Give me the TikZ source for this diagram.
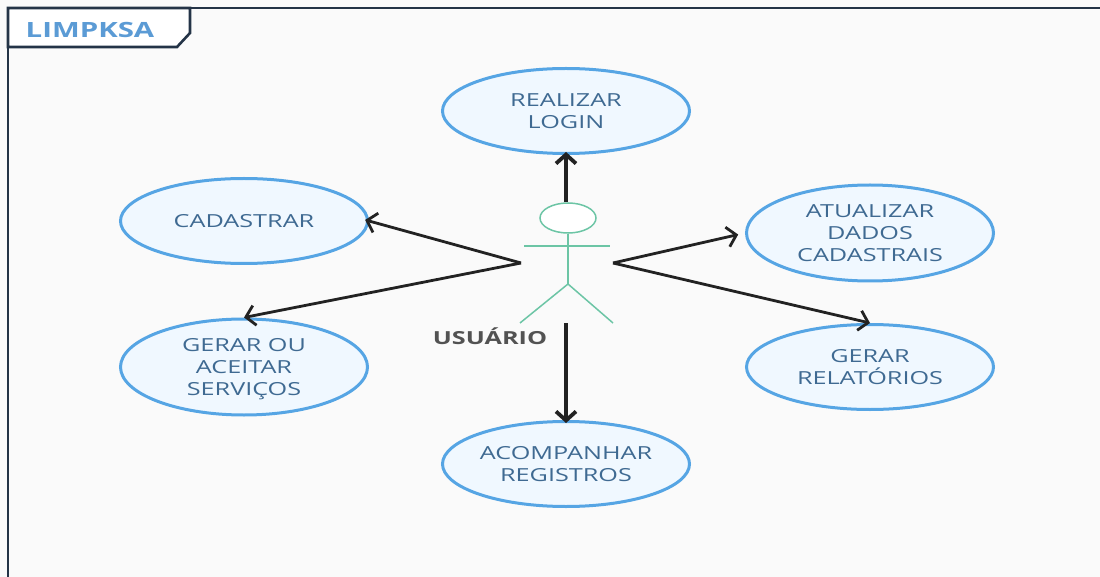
\documentclass[tikz,border=0pt]{standalone}
\usepackage{fontspec}
\usepackage{amsmath}
\setmainfont[FakeStretch=1.4]{Open Sans}
\usetikzlibrary{arrows.meta,shapes.geometric}

\definecolor{pagebg}{HTML}{FAFAFA}
\definecolor{framecol}{HTML}{243447}
\definecolor{ellfill}{HTML}{F0F8FF}
\definecolor{ellline}{HTML}{56A5E4}
\definecolor{txtcol}{HTML}{3F6A92}
\definecolor{titlecol}{HTML}{5B9BD5}
\definecolor{actorcol}{HTML}{6CC5A5}
\definecolor{arrowcol}{HTML}{222222}

\tikzset{
  usecase/.style={ellipse, draw=ellline, fill=ellfill, line width=3pt, inner sep=0pt,
    minimum width=247pt, minimum height=85pt, align=center, text=txtcol,
    font=\fontsize{18}{22}\selectfont},
  flow/.style={draw=arrowcol, line width=3.8pt, -{Straight Barb[length=9pt,width=20pt]}},
  sideflow/.style={flow, line width=2.8pt},
  actorline/.style={draw=actorcol, line width=1.5pt}
}

\begin{document}
\begin{tikzpicture}[x=1pt,y=-1pt]
    \useasboundingbox (0,0) rectangle (1100,577);
    \fill[pagebg] (0,0) rectangle (1100,577);

    % frame and tab
    \draw[framecol, line width=2.6pt] (8,577) -- (8,8) -- (1100,8);
    \draw[framecol, line width=2.6pt, fill=white] (8,8) -- (190,8) -- (190,33) -- (177,47) -- (8,47) -- cycle;
    \node[font=\fontsize{21}{24}\selectfont\bfseries, text=titlecol] (title) at (90,30) {LIMPKSA};

    % use cases
    \node[usecase] (login) at (566,111) {REALIZAR\\LOGIN};
    \node[usecase] (cadastrar) at (244,221) {CADASTRAR};
    \node[usecase, minimum height=96pt, text depth=0pt] (servicos) at (244,367) {GERAR OU\\ACEITAR\\SERVIÇOS};
    \node[usecase, minimum height=96pt] (dados) at (870,233) {ATUALIZAR\\DADOS\\CADASTRAIS};
    \node[usecase] (relatorios) at (870,367) {GERAR\\RELATÓRIOS};
    \node[usecase] (registros) at (566,464) {ACOMPANHAR\\REGISTROS};

    % actor
    \node[ellipse, draw=actorcol, fill=white, line width=1.5pt, minimum width=56pt, minimum height=30pt, inner sep=0pt] (head) at (568,218) {};
    \coordinate (hip) at (568,284);
    \coordinate (armL) at (524,246);
    \coordinate (armR) at (610,246);
    \coordinate (legL) at (520,323);
    \coordinate (legR) at (613,323);
    \draw[actorline] (head.south) -- (hip);
    \draw[actorline] (armL) -- (armR);
    \draw[actorline] (legL) -- (hip) -- (legR);
    \node[font=\fontsize{18}{22}\selectfont\bfseries, text=black!68] (usuario) at (490,336) {USUÁRIO};

    % arrows
    \coordinate (top) at (566,202);
    \coordinate (left) at (521,263);
    \coordinate (right) at (613,263);
    \coordinate (bottom) at (566,323);
    \draw[flow, shorten >=-3pt] (top) -- (login.south);
    \draw[sideflow, shorten >=-4pt] (left) -- (cadastrar.east);
    \draw[sideflow] (left) -- (servicos.north);
    \draw[sideflow, shorten >=7pt] (right) -- (dados.west);
    \draw[sideflow] (right) -- (relatorios.north);
    \draw[flow, shorten >=-3pt] (bottom) -- (registros.north);
\end{tikzpicture}
\end{document}
